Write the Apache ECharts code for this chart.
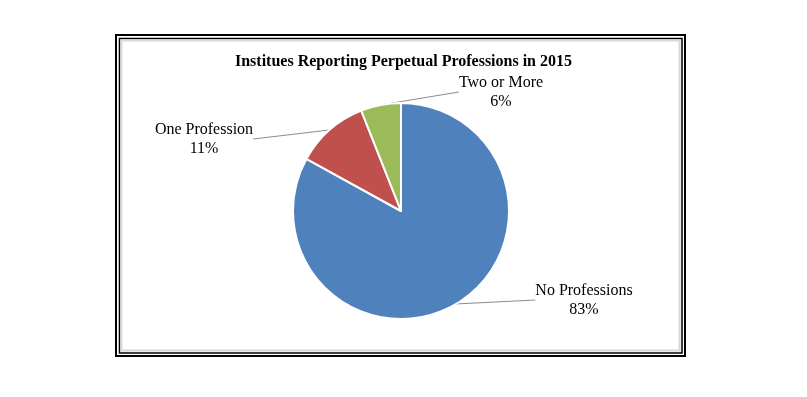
<!DOCTYPE html>
<html>
<head>
<meta charset="utf-8">
<script src="https://cdn.jsdelivr.net/npm/echarts@6/dist/echarts.min.js"></script>
<style>
  html, body { margin: 0; padding: 0; background: #fff; }
  #main { width: 807px; height: 397px; }
</style>
</head>
<body>
<div id="main"></div>
<script>
var categories = ['No Professions', 'One Profession', 'Two or More'];
var values = [83, 11, 6];
var colors = ['#4F81BD', '#C0504D', '#9BBB59'];
// where each label sits (centre of the text block)
var labelPos = [[584, 300], [204, 139], [501, 92]];

var myChart = echarts.init(document.getElementById('main'));
myChart.setOption({
    animation: false,
    title: {
        text: 'Institues Reporting Perpetual Professions in 2015',
        left: 'center',
        top: 49,
        textStyle: {
            fontFamily: 'Liberation Serif',
            fontSize: 16,
            fontWeight: 'bold',
            color: '#000'
        }
    },
    graphic: [
        { type: 'rect', shape: { x: 116, y: 35, width: 569, height: 321 },
          style: { fill: null, stroke: '#000', lineWidth: 2 } },
        { type: 'rect', shape: { x: 119.5, y: 38.5, width: 562.5, height: 314.5 },
          style: { fill: null, stroke: '#000', lineWidth: 1.5 } },
        { type: 'rect', shape: { x: 121.5, y: 40.5, width: 558, height: 310 },
          style: { fill: null, stroke: '#d9d9d9', lineWidth: 2 } }
    ],
    series: [
        {
            type: 'pie',
            center: [401, 211],
            radius: 108,
            startAngle: 90,
            clockwise: true,
            color: colors,
            itemStyle: {
                borderColor: '#fff',
                borderWidth: 2
            },
            label: {
                show: true,
                formatter: '{b}\n{d}%',
                fontFamily: 'Liberation Serif',
                fontSize: 16,
                lineHeight: 19,
                color: '#000',
                align: 'center'
            },
            labelLine: {
                show: true,
                length: 10,
                length2: 0,
                lineStyle: { color: '#8c8c8c', width: 1 }
            },
            labelLayout: function (params) {
                var p = labelPos[params.dataIndex];
                return {
                    x: p[0],
                    y: p[1],
                    align: 'center',
                    verticalAlign: 'middle'
                };
            },
            data: categories.map(function (name, i) {
                return { name: name, value: values[i] };
            })
        }
    ]
});
</script>
</body>
</html>
